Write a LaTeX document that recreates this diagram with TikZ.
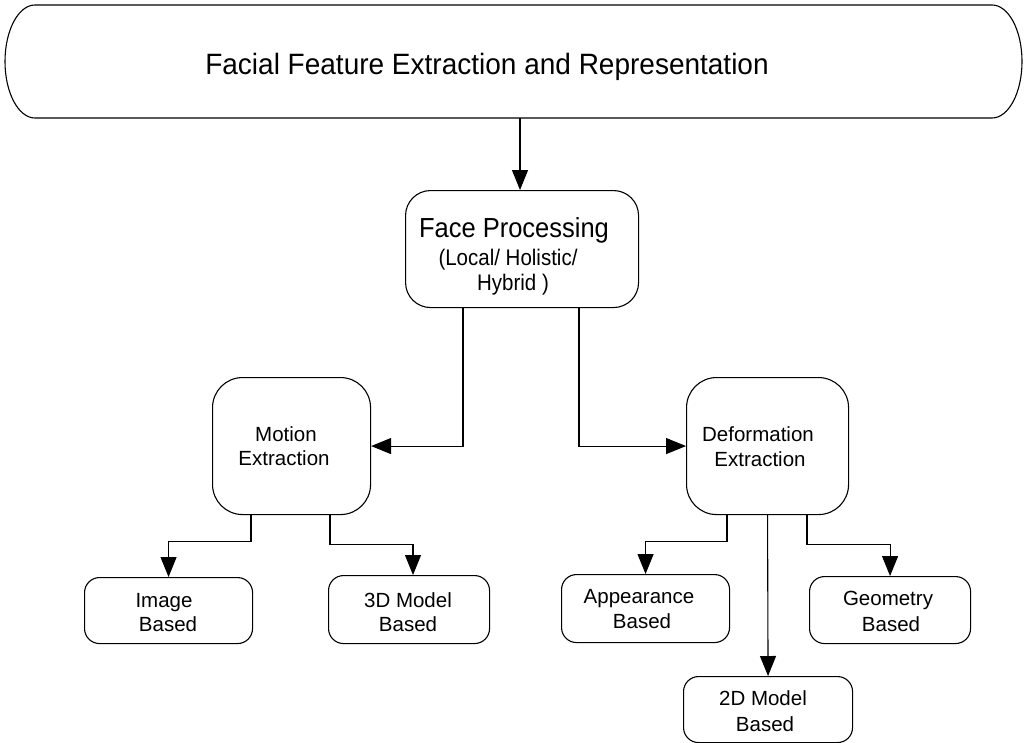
\documentclass[tikz,border=0pt]{standalone}
\usepackage{fontspec}
\setmainfont{Liberation Sans}
\usetikzlibrary{arrows.meta}
\newcommand{\tall}[2]{\scalebox{1}[#1]{#2}}
\begin{document}
\begin{tikzpicture}[x=1pt,y=-1pt,
  outline/.style={line width=1.1pt},
  box/.style={draw,outline,rounded corners=#1,inner sep=0pt,anchor=north west},
  arr/.style={outline,-{Triangle[length=20pt,width=16pt]}},
  big/.style={font=\fontsize{28}{32}\selectfont,anchor=base,inner sep=0pt},
  mid/.style={font=\fontsize{25.5}{30}\selectfont,anchor=base,inner sep=0pt},
  txt/.style={font=\fontsize{20.5}{24}\selectfont,anchor=base,inner sep=0pt}]
\useasboundingbox (0,0) rectangle (1024,742);

% top terminator with elliptical ends
\node[inner sep=0pt,anchor=north west,minimum width=1017pt,minimum height=113pt] (top) at (5,5) {};
\draw[outline] (35,5) -- (992,5) arc[start angle=-90,end angle=90,x radius=30,y radius=56.5]
  -- (35,118) arc[start angle=90,end angle=270,x radius=30,y radius=56.5] -- cycle;
\node[big] (ttl) at (487,74) {\tall{1.05}{Facial Feature Extraction and Representation}};

% boxes
\node[box=25,minimum width=233pt,minimum height=117pt] (fp) at (405,190) {};
\node[box=30,minimum width=158pt,minimum height=137pt] (me) at (212,377) {};
\node[box=30,minimum width=162pt,minimum height=137pt] (de) at (686,377) {};
\node[box=15,minimum width=168pt,minimum height=66pt] (ib) at (84,577) {};
\node[box=15,minimum width=161pt,minimum height=68pt] (mt) at (328,575) {};
\node[box=15,minimum width=168pt,minimum height=68pt] (ap) at (561,574) {};
\node[box=15,minimum width=161pt,minimum height=67pt] (ge) at (809,576) {};
\node[box=15,minimum width=169pt,minimum height=66pt] (mw) at (683,676) {};

% labels
\node[mid] (fp1) at (514,237.5) {\tall{1.08}{Face Processing}};
\node[txt] (fp2) at (508,265) {\tall{1.1}{(Local/ Holistic/}};
\node[txt] (fp3) at (513,290) {\tall{1.1}{Hybrid )}};
\node[txt] (me1) at (286,441) {Motion};
\node[txt] (me2) at (284,465) {Extraction};
\node[txt] (de1) at (758,441) {Deformation};
\node[txt] (de2) at (760,466) {Extraction};
\node[txt] (ib1) at (164,607) {Image};
\node[txt] (ib2) at (168,631) {Based};
\node[txt] (mt1) at (408,607) {3D Model};
\node[txt] (mt2) at (408,631) {Based};
\node[txt] (ap1) at (639,603) {Appearance};
\node[txt] (ap2) at (642,628) {Based};
\node[txt] (ge1) at (888,605) {Geometry};
\node[txt] (ge2) at (891,631) {Based};
\node[txt] (mw1) at (763,705) {2D Model};
\node[txt] (mw2) at (765,731) {Based};

% connectors
\draw[arr] (top.south -| 520,0) -- (fp.north -| 520,0);
\draw[arr] (fp.south -| 463,0) |- (me.east);
\draw[arr] (fp.south -| 579,0) |- (de.west);
\draw[arr] (me.south -| 251,0) -- ++(0,26) -| (ib.north);
\draw[arr] (me.south -| 330,0) -- ++(0,29) -| (mt.north -| 413,0);
\draw[arr] (de.south -| 727,0) -- ++(0,26) -| (ap.north);
\draw[arr] (de.south) -- (mw.north);
\draw[arr] (de.south -| 807,0) -- ++(0,29) -| (ge.north);
\end{tikzpicture}
\end{document}
